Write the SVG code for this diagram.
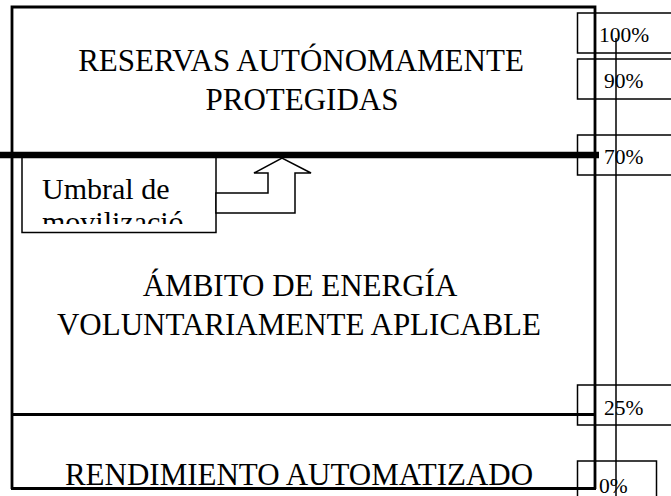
<svg xmlns="http://www.w3.org/2000/svg" width="671" height="496" viewBox="0 0 671 496">
<style>
.main{font-family:"Liberation Serif","Times New Roman",serif;font-size:31px;fill:#000;text-anchor:middle}
.pct{font-family:"Liberation Serif","Times New Roman",serif;font-size:21.5px;fill:#000}
.lbl{font-family:"Liberation Serif","Times New Roman",serif;font-size:30px;fill:#000}
.box{fill:#fff;stroke:#000;stroke-width:1.5}
.frame{stroke:#000;stroke-width:2.8;fill:none}
</style>
<defs>
<clipPath id="c70"><rect x="577" y="135" width="94" height="29"/></clipPath>
<clipPath id="cum"><rect x="22" y="157" width="194" height="67"/></clipPath>
</defs>
<rect width="671" height="496" fill="#fff"/>
<g id="scale">
<g id="p100"><rect class="box" x="577.5" y="13" width="100" height="40"/><text class="pct" x="599" y="42">100%</text></g>
<g id="p90"><rect class="box" x="577.5" y="59" width="100" height="40"/><text class="pct" x="604" y="88">90%</text></g>
<g id="p70"><rect class="box" x="577.5" y="135" width="100" height="40"/><text class="pct" x="604" y="164" clip-path="url(#c70)">70%</text></g>
<g id="p25"><rect class="box" x="577.5" y="385" width="100" height="40"/><text class="pct" x="604" y="415">25%</text></g>
<g id="p0"><rect class="box" x="577.5" y="461" width="79" height="50"/><text class="pct" x="599" y="493">0%</text></g>
</g>
<g id="connectors">
<line x1="616" y1="38" x2="616" y2="496" stroke="#000" stroke-width="1.5"/>
<polyline class="frame" points="12,489 12,7 595,7 595,489"/>
<line class="frame" x1="11" y1="414.5" x2="596" y2="414.5"/>
<line class="frame" x1="11" y1="488.5" x2="596" y2="488.5"/>
<line x1="0" y1="155" x2="599" y2="155" stroke="#000" stroke-width="6.5"/>
</g>
<g id="reservas"><text class="main" x="301" y="71">RESERVAS AUTÓNOMAMENTE</text><text class="main" x="302" y="109.5">PROTEGIDAS</text></g>
<g id="ambito"><text class="main" x="300" y="296">ÁMBITO DE ENERGÍA</text><text class="main" x="299" y="335">VOLUNTARIAMENTE APLICABLE</text></g>
<g id="rendimiento"><text class="main" x="299" y="485">RENDIMIENTO AUTOMATIZADO</text></g>
<g id="umbral">
<rect class="box" x="22" y="157.5" width="194" height="75"/>
<g clip-path="url(#cum)"><text class="lbl" x="42" y="199">Umbral de</text><text class="lbl" x="42" y="232">movilizació</text></g>
</g>
<g id="arrow"><polygon class="box" points="216,193 268,193 268,173 254,173 282,158 311,173 295,173 295,213 216,213"/></g>
</svg>
